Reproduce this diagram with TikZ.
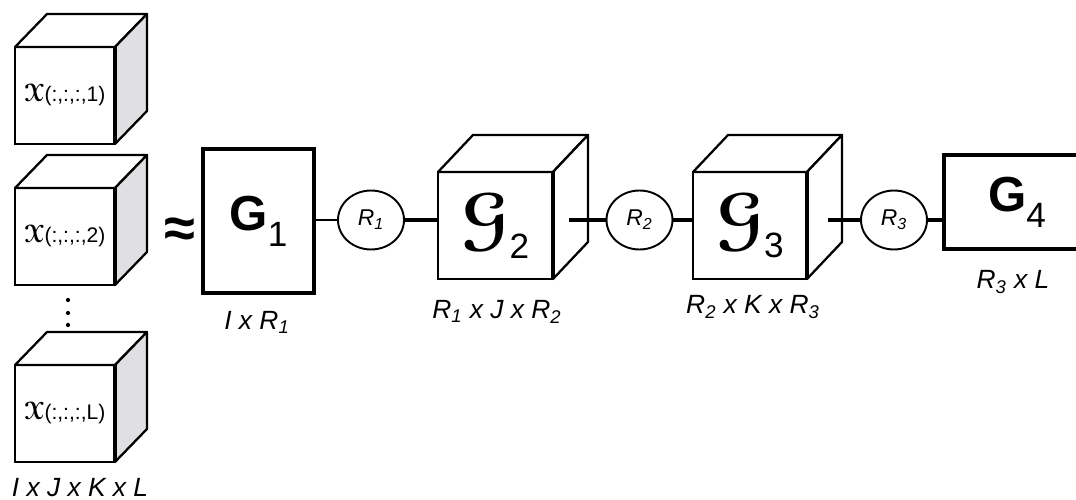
\documentclass[tikz,border=0pt]{standalone}
\usepackage{amsmath}
\usepackage[mathscr]{eucal}
\usepackage{fontspec}
\setmainfont{Liberation Sans}
\usetikzlibrary{shapes.geometric}
\definecolor{tdside}{RGB}{224,224,226}

\tikzset{
  slab/.style={draw,line width=1.8pt,fill=white,inner sep=0pt,outer sep=0pt},
  face/.style={draw,line width=1.5pt,fill=white,inner sep=0pt,outer sep=0pt},
  edge/.style={line width=1.3pt,line join=round},
  rank/.style={draw,ellipse,line width=1.1pt,minimum width=1.32cm,minimum height=1.18cm,inner sep=0pt,font=\fontsize{13}{13}\selectfont\itshape},
  dimlbl/.style={font=\fontsize{15}{15}\selectfont\itshape},
  link/.style={line width=2pt},
}
% top and side of a cube behind node #1, depth (#2,#3), side fill #4
\newcommand{\tdcube}[4]{%
  \draw[edge,fill=white] (#1.north west) -- ([shift={(#2,-#3)}]#1.north west) -- ([shift={(#2,-#3)}]#1.north east) -- (#1.north east) -- cycle;
  \draw[edge,fill=#4] (#1.north east) -- ([shift={(#2,-#3)}]#1.north east) -- ([shift={(#2,-#3)}]#1.south east) -- (#1.south east) -- cycle;
  \draw[line width=2.4pt] (#1.north east) -- (#1.south east);}
\newcommand{\gcore}[2]{{\fontsize{28}{28}\selectfont\bfseries #1}\raisebox{-9pt}{\fontsize{20}{20}\selectfont #2}}
\newcommand{\gtens}[1]{{\fontsize{40}{40}\selectfont\boldmath$\mathscr{G}$}\raisebox{-9pt}{\fontsize{20}{20}\selectfont #1}}
\newcommand{\xslice}[1]{{\fontsize{14}{14}\selectfont\boldmath$\mathscr{X}$}(:,:,:,#1)}

\begin{document}
\begin{tikzpicture}[x=0.02cm,y=-0.02cm]
\useasboundingbox (0,0) rectangle (1076,500);
% Left: frontal slices of the tensor
\foreach \n/\y/\s in {x1/95.5/1,x2/236.5/2,xl/413.5/L} {
  \node[face,minimum width=2cm,minimum height=1.94cm,font=\fontsize{12}{12}\selectfont] (\n) at (65,\y) {\xslice{\s}\hspace{6pt}};
  \tdcube{\n}{32}{33}{tdside}
}
\foreach \y in {300,313,325} {\fill (68,\y) circle (1.2pt);}
\node[font=\fontsize{15}{15}\selectfont\itshape] (xdim) at (80,488) {I x J x K x L};
\node[font=\fontsize{32}{32}\selectfont\bfseries] (approx) at (180,233) {≈};
% Right: tensor train
\node[slab,minimum width=2.22cm,minimum height=2.88cm] (g1) at (258.5,221) {\gcore{G}{1}};
\node[dimlbl] (g1dim) at (257,322) {I x R\textsubscript{1}};
\node[rank] (r1) at (371,220) {R\textsubscript{1}};
\node[face,minimum width=2.3cm,minimum height=2.14cm] (g2) at (495.5,225.5) {\gtens{2}};
\tdcube{g2}{35}{37}{white}
\node[dimlbl] (g2dim) at (497,312) {R\textsubscript{1} x J x R\textsubscript{2}};
\node[rank] (r2) at (639.5,220) {R\textsubscript{2}};
\node[face,minimum width=2.28cm,minimum height=2.14cm] (g3) at (750,225.5) {\gtens{3}};
\tdcube{g3}{35}{37}{white}
\node[dimlbl] (g3dim) at (753,307) {R\textsubscript{2} x K x R\textsubscript{3}};
\node[rank] (r3) at (894,220) {R\textsubscript{3}};
\node[slab,minimum width=2.92cm,minimum height=1.88cm] (g4) at (1017,202) {\gcore{G}{4}};
\node[dimlbl] (g4dim) at (1013,282) {R\textsubscript{3} x L};
\coordinate (g2out) at (569,220);
\coordinate (g3out) at (828,220);
% links
\draw[line width=1.3pt] (g1.east |- r1) -- (r1);
\draw[link] (r1) -- (r1 -| g2.west);
\draw[link] (g2out) -- (r2);
\draw[link] (r2) -- (r2 -| g3.west);
\draw[link] (g3out) -- (r3);
\draw[link] (r3) -- (r3 -| g4.west);
\end{tikzpicture}
\end{document}
